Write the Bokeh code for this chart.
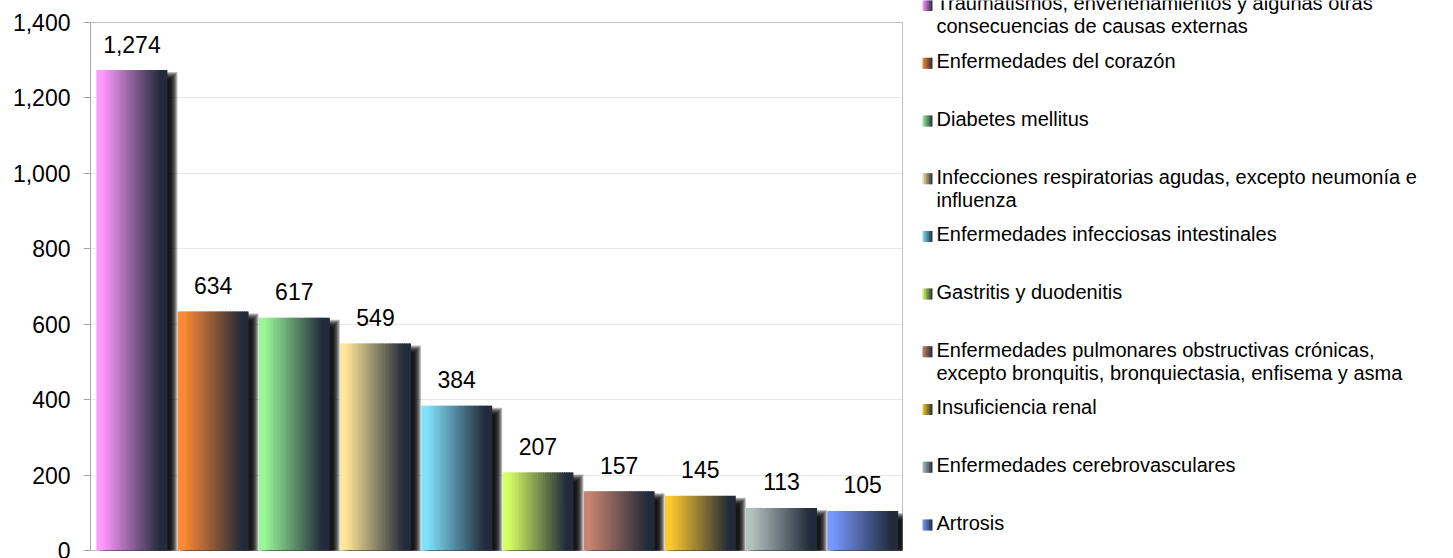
from bokeh.plotting import figure
from bokeh.models import Range1d, FixedTicker, NumeralTickFormatter
from bokeh.layouts import row
from bokeh.embed import file_html
from bokeh.resources import INLINE
from bokeh.core.properties import value

# ---------------- data ----------------
categories = [
    "Traumatismos, envenenamientos y algunas otras\nconsecuencias de causas externas",
    "Enfermedades del corazón",
    "Diabetes mellitus",
    "Infecciones respiratorias agudas, excepto neumonía e\ninfluenza",
    "Enfermedades infecciosas intestinales",
    "Gastritis y duodenitis",
    "Enfermedades pulmonares obstructivas crónicas,\nexcepto bronquitis, bronquiectasia, enfisema y asma",
    "Insuficiencia renal",
    "Enfermedades cerebrovasculares",
    "Artrosis",
]
values = [1274, 634, 617, 549, 384, 207, 157, 145, 113, 105]
light_colors = ["#ff99ff", "#fd8935", "#99f799", "#fee79a", "#80e3fe",
                "#d9ff66", "#c8846e", "#fdc92e", "#b2c2bd", "#7799ff"]
dark_color = "#232b3a"
y_ticks = [0, 200, 400, 600, 800, 1000, 1200, 1400]

FONT = "Liberation Sans"

# ---------------- helpers ----------------
def hex2rgb(h):
    h = h.lstrip("#")
    return tuple(int(h[k:k + 2], 16) for k in (0, 2, 4))

def blend(c1, c2, t):
    a, b = hex2rgb(c1), hex2rgb(c2)
    return "#%02x%02x%02x" % tuple(int(round(a[k] + (b[k] - a[k]) * t)) for k in range(3))

def ramp(t, t0=0.08, t1=0.90):
    return min(1.0, max(0.0, (t - t0) / (t1 - t0)))

# ---------------- main chart ----------------
W_TOTAL, H = 1453, 558
W_MAIN = 905
ML, MR, MT, MB = 90, 3, 22, 8
frame_w = W_MAIN - ML - MR
frame_h = H - MT - MB
n = len(values)
YMAX = 1400
px_x = n / frame_w          # data units per pixel (x)
px_y = YMAX / frame_h       # data units per pixel (y)

p = figure(width=W_MAIN, height=H, x_range=Range1d(0, n), y_range=Range1d(0, YMAX),
           output_backend="svg", toolbar_location=None, x_axis_location=None,
           min_border_left=ML, min_border_right=MR, min_border_top=MT, min_border_bottom=MB)
p.frame_align = False
p.background_fill_color = "white"
p.border_fill_color = "white"
p.outline_line_color = "#c0c0c0"
p.xgrid.visible = False
p.ygrid.grid_line_color = "#e8e8e8"
p.ygrid.ticker = FixedTicker(ticks=y_ticks)

ax = p.yaxis[0]
ax.ticker = FixedTicker(ticks=y_ticks)
ax.formatter = NumeralTickFormatter(format="0,0")
ax.major_label_text_font = FONT
ax.major_label_text_font_size = "23px"
ax.major_label_text_color = "black"
ax.major_tick_out = 7
ax.major_tick_in = 0
ax.minor_tick_out = 0
ax.minor_tick_in = 0
ax.axis_line_color = "#a6a6a6"
ax.major_tick_line_color = "#a6a6a6"
ax.major_label_standoff = 13

BAR_L, BAR_R = 0.073, 0.947
BW = BAR_R - BAR_L

# shadows (blurred look through stacked translucent rects)
dx, dy = 6, 6
sl, sr, st, sb = [], [], [], []
for e in [-3, -2, -1, 0, 1, 2, 3, 4]:
    for i, v in enumerate(values):
        sl.append(i + BAR_L + (dx - e) * px_x)
        sr.append(i + BAR_R + (dx + e) * px_x)
        st.append(v - (dy - e) * px_y)
        sb.append(-20 * px_y)
p.quad(left=sl, right=sr, top=st, bottom=sb, fill_color="black", fill_alpha=0.26, line_color=None)

# gradient bars built from overlapping vertical strips
N = 30
L, R, T, B, C = [], [], [], [], []
for i, v in enumerate(values):
    for j in range(N):
        t0, t1 = j / N, min(1.0, (j + 1.6) / N)
        L.append(i + BAR_L + t0 * BW)
        R.append(i + BAR_L + t1 * BW)
        T.append(v)
        B.append(0)
        C.append(blend(light_colors[i], dark_color, ramp((j + 0.5) / N)))
p.quad(left=L, right=R, top=T, bottom=B, fill_color=C, line_color=None)

# value labels
p.text(x=[i + (BAR_L + BAR_R) / 2 for i in range(n)],
       y=[v + 26 * px_y for v in values],
       text=[f"{v:,}" for v in values],
       text_align="center", text_baseline="alphabetic",
       text_font=value(FONT), text_font_size="23px", text_color="black")

# ---------------- legend panel ----------------
W_LEG = W_TOTAL - W_MAIN
lp = figure(width=W_LEG, height=H, x_range=Range1d(0, W_LEG), y_range=Range1d(H, 0),
            output_backend="svg", toolbar_location=None, min_border=0,
            x_axis_location=None, y_axis_location=None)
lp.frame_align = False
lp.outline_line_color = None
lp.grid.visible = False
lp.background_fill_color = "white"
lp.border_fill_color = "white"

x0 = W_MAIN  # page x where the legend panel starts
step = 57.7
c0 = 62.8 - step  # centre of first legend swatch (page y)
ql, qr, qt, qb, qc = [], [], [], [], []
ty = []
for i, lab in enumerate(categories):
    c = c0 + step * i
    M = 6
    for j in range(M):
        ql.append(922 - x0 + j * 10 / M)
        qr.append(922 - x0 + min(10, (j + 1.5) * 10 / M))
        qt.append(c - 5.5)
        qb.append(c + 5.5)
        qc.append(blend(light_colors[i], dark_color, (j + 0.5) / M))
    ty.append(c - 13.2)
lp.quad(left=ql, right=qr, top=qt, bottom=qb, fill_color=qc, line_color=None)
lp.text(x=[936 - x0] * n, y=ty, text=categories, text_align="left", text_baseline="top",
        text_line_height=1.05, text_font=value(FONT), text_font_size="20px", text_color="black")

layout = row(p, lp)
open("out.html", "w").write(file_html(layout, INLINE))
